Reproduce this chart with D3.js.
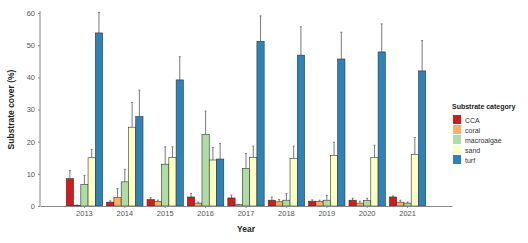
<!DOCTYPE html>
<html>
<head>
<meta charset="utf-8">
<script src="https://cdn.jsdelivr.net/npm/d3@7/dist/d3.min.js"></script>
<style>
  body { margin: 0; background: #fff; }
  svg { display: block; font-family: "Liberation Sans", Arial, sans-serif; }
</style>
</head>
<body>
<div id="chart"></div>
<script>
const years = ["2013", "2014", "2015", "2016", "2017", "2018", "2019", "2020", "2021"];
const categories = ["CCA", "coral", "macroalgae", "sand", "turf"];
const yTicks = [0, 10, 20, 30, 40, 50, 60];

// mean cover per category, one value per year
const ccaMean = [8.5, 1.2, 2.0, 2.8, 2.5, 1.8, 1.5, 1.8, 2.8];
const coralMean = [0.2, 2.6, 1.4, 0.9, 0.4, 1.3, 1.4, 0.9, 1.2];
const macroMean = [6.7, 7.5, 13.0, 22.2, 11.7, 1.8, 1.8, 1.7, 0.9];
const sandMean = [15.0, 24.5, 15.1, 14.3, 15.1, 14.8, 15.7, 15.1, 16.0];
const turfMean = [53.8, 27.8, 39.2, 14.6, 51.2, 46.9, 45.7, 47.9, 42.0];

// upper end of error bar
const ccaUpper = [11.0, 1.6, 2.6, 3.9, 3.4, 2.8, 1.9, 2.4, 3.1];
const coralUpper = [0.3, 5.4, 1.8, 1.2, 0.5, 2.0, 1.8, 1.5, 1.8];
const macroUpper = [9.5, 11.4, 18.4, 29.5, 16.3, 3.9, 3.3, 2.4, 1.2];
const sandUpper = [17.6, 32.2, 18.4, 18.2, 18.6, 18.6, 19.8, 18.9, 21.3];
const turfUpper = [60.2, 36.0, 46.4, 19.4, 59.1, 55.7, 54.0, 56.6, 51.4];

const colors = ["#d7191c", "#fdae61", "#abdda4", "#ffffbf", "#2b83ba"];

const means = [ccaMean, coralMean, macroMean, sandMean, turfMean];
const uppers = [ccaUpper, coralUpper, macroUpper, sandUpper, turfUpper];

const rows = [];
years.forEach((yr, i) => {
    categories.forEach((c, j) => {
        rows.push({ year: yr, cat: c, mean: means[j][i], upper: uppers[j][i] });
    });
});

const W = 528, H = 243;
const mLeft = 40, mRight = 452, mTop = 13, mBottom = 206;

const color = d3.scaleOrdinal().domain(categories).range(colors);

const x = d3.scaleBand()
    .domain(years)
    .range([mLeft, mRight])
    .paddingInner(0)
    .paddingOuter(0.6);

const inner = d3.scaleBand()
    .domain(categories)
    .range([x.bandwidth() * 0.05, x.bandwidth() * 0.95]);

const y = d3.scaleLinear()
    .domain([0, 60])
    .range([mBottom, mTop]);

const svg = d3.select("#chart")
    .append("svg")
    .attr("width", W)
    .attr("height", H);

// error bars (drawn first so bars cover lower half)
const err = svg.append("g");
rows.forEach(d => {
    const cx = x(d.year) + inner(d.cat) + inner.bandwidth() / 2;
    err.append("line")
        .attr("x1", cx).attr("x2", cx)
        .attr("y1", y(d.mean)).attr("y2", y(d.upper))
        .attr("stroke", "#7a7a7a").attr("stroke-width", 1);
    err.append("line")
        .attr("x1", cx - 1).attr("x2", cx + 1)
        .attr("y1", y(d.upper)).attr("y2", y(d.upper))
        .attr("stroke", "#7a7a7a").attr("stroke-width", 1);
});

svg.append("g")
    .selectAll("rect")
    .data(rows)
    .enter()
    .append("rect")
    .attr("x", d => x(d.year) + inner(d.cat))
    .attr("y", d => y(d.mean))
    .attr("width", inner.bandwidth())
    .attr("height", d => y(0) - y(d.mean))
    .attr("fill", d => color(d.cat))
    .attr("stroke", "#333")
    .attr("stroke-width", 0.6);

// axes
const yAxis = svg.append("g")
    .attr("transform", `translate(${mLeft},0)`)
    .call(d3.axisLeft(y).tickValues(yTicks).tickSize(2).tickPadding(3));
const xAxis = svg.append("g")
    .attr("transform", `translate(0,${mBottom})`)
    .call(d3.axisBottom(x).tickSize(2).tickPadding(3).tickSizeOuter(0));

[yAxis, xAxis].forEach(g => {
    g.select(".domain").attr("stroke", "#888");
    g.selectAll(".tick line").attr("stroke", "#888");
    g.selectAll("text")
        .attr("fill", "#555")
        .style("font-size", "7.5px")
        .style("font-family", "Liberation Sans, Arial, sans-serif");
});
yAxis.select(".domain").attr("d", `M0,${mBottom}V${mTop - 2}`);

svg.append("text")
    .attr("transform", `translate(14,${(mTop + mBottom) / 2}) rotate(-90)`)
    .attr("text-anchor", "middle")
    .style("font-size", "8.5px")
    .style("font-weight", "bold")
    .attr("fill", "#222")
    .text("Substrate cover (%)");

svg.append("text")
    .attr("x", (mLeft + mRight) / 2)
    .attr("y", 232)
    .attr("text-anchor", "middle")
    .style("font-size", "8.5px")
    .style("font-weight", "bold")
    .attr("fill", "#222")
    .text("Year");

// legend
const lg = svg.append("g").attr("transform", "translate(452,109)");
lg.append("text")
    .attr("x", 0).attr("y", 0)
    .style("font-size", "7px")
    .style("font-weight", "bold")
    .attr("fill", "#222")
    .text("Substrate category");
categories.forEach((c, i) => {
    lg.append("rect")
        .attr("x", 1).attr("y", 6 + i * 10)
        .attr("width", 8).attr("height", 9)
        .attr("fill", color(c));
    lg.append("text")
        .attr("x", 13).attr("y", 13.5 + i * 10)
        .style("font-size", "7px")
        .attr("fill", "#333")
        .text(c);
});
</script>
</body>
</html>
